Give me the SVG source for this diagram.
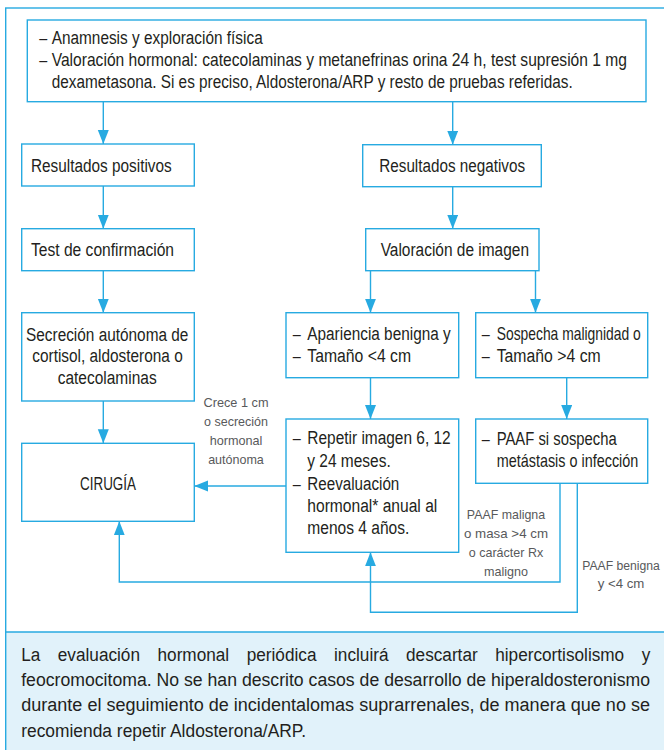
<svg xmlns="http://www.w3.org/2000/svg" width="664" height="750" viewBox="0 0 664 750">
<style>
.bx{fill:#fff;stroke:#27aae1;stroke-width:1.4}
.ln{fill:none;stroke:#27aae1;stroke-width:1.4}
.t{font-family:"Liberation Sans Narrow","Liberation Sans",Arial,sans-serif;font-size:18px;fill:#231f20}
.g{font-family:"Liberation Sans Narrow","Liberation Sans",Arial,sans-serif;font-size:13.5px;fill:#58595b;text-anchor:middle}
</style>
<defs>
<marker id="ah" markerUnits="userSpaceOnUse" markerWidth="15" markerHeight="12" refX="14" refY="5.5" orient="auto">
<path d="M0,0 L14,5.5 L0,11 z" fill="#27aae1"/>
</marker>
</defs>
<rect x="0" y="0" width="664" height="750" fill="#fff"/>
<rect x="5.7" y="632" width="660" height="120" fill="#e1f2fa"/>
<rect x="5.7" y="8" width="670" height="760" class="ln"/>
<line x1="5.7" y1="632" x2="664" y2="632" class="ln"/>

<g id="connectors">
<path class="ln" marker-end="url(#ah)" d="M103.3,101.7 V144"/>
<path class="ln" marker-end="url(#ah)" d="M452.7,101.7 V144.7"/>
<path class="ln" marker-end="url(#ah)" d="M103.3,186 V228.7"/>
<path class="ln" marker-end="url(#ah)" d="M452.7,186.7 V228.7"/>
<path class="ln" marker-end="url(#ah)" d="M103.3,270.7 V312.7"/>
<path class="ln" marker-end="url(#ah)" d="M370.5,270.7 V312.7"/>
<path class="ln" marker-end="url(#ah)" d="M535.5,270.7 V312.7"/>
<path class="ln" marker-end="url(#ah)" d="M103.3,401 V443.3"/>
<path class="ln" marker-end="url(#ah)" d="M370.5,377.7 V419"/>
<path class="ln" marker-end="url(#ah)" d="M566.7,377.7 V419"/>
<path class="ln" marker-end="url(#ah)" d="M286,486 H194.3"/>
<path class="ln" marker-end="url(#ah)" d="M560,483.3 V582 H119.3 V521.3"/>
<path class="ln" marker-end="url(#ah)" d="M577.3,483.3 V612.3 H370.5 V552.3"/>
<text class="g"><tspan x="236" y="407.3" textLength="65" lengthAdjust="spacingAndGlyphs">Crece 1 cm</tspan><tspan x="236" y="426.3" textLength="64" lengthAdjust="spacingAndGlyphs">o secreción</tspan><tspan x="236" y="445.3" textLength="52.7" lengthAdjust="spacingAndGlyphs">hormonal</tspan><tspan x="236" y="464.3" textLength="55.7" lengthAdjust="spacingAndGlyphs">autónoma</tspan></text>
<text class="g"><tspan x="506" y="519.3" textLength="78.3" lengthAdjust="spacingAndGlyphs">PAAF maligna</tspan><tspan x="506" y="538.3" textLength="84" lengthAdjust="spacingAndGlyphs">o masa &gt;4 cm</tspan><tspan x="506" y="557.3" textLength="74.4" lengthAdjust="spacingAndGlyphs">o carácter Rx</tspan><tspan x="506" y="576.3" textLength="44" lengthAdjust="spacingAndGlyphs">maligno</tspan></text>
<text class="g" transform="translate(621 570) scale(0.893 1)" x="0" y="0" textLength="87" lengthAdjust="spacingAndGlyphs">PAAF benigna</text>
<text class="g" x="621" y="588.3" textLength="46.7" lengthAdjust="spacingAndGlyphs">y &lt;4 cm</text>
</g>

<g id="n-top">
<rect class="bx" x="27.3" y="20" width="618.7" height="81.7"/>
<text class="t" x="39.3" y="43.5" textLength="8" lengthAdjust="spacingAndGlyphs">–</text>
<text class="t" x="51.7" y="43.5" textLength="211" lengthAdjust="spacingAndGlyphs">Anamnesis y exploración física</text>
<text class="t" x="39.3" y="65.5" textLength="8" lengthAdjust="spacingAndGlyphs">–</text>
<text class="t" transform="translate(51.7 65.5) scale(0.852 1)" x="0" y="0" textLength="675.2" lengthAdjust="spacingAndGlyphs">Valoración hormonal: catecolaminas y metanefrinas orina 24 h, test supresión 1 mg</text>
<text class="t" x="51.7" y="87.5" textLength="521" lengthAdjust="spacingAndGlyphs">dexametasona. Si es preciso, Aldosterona/ARP y resto de pruebas referidas.</text>
</g>

<g id="n-positivos">
<rect class="bx" x="21.7" y="144" width="172.6" height="42"/>
<text class="t" x="31" y="171.5" textLength="140.7" lengthAdjust="spacingAndGlyphs">Resultados positivos</text>
</g>

<g id="n-negativos">
<rect class="bx" x="362.7" y="144.7" width="178.6" height="42"/>
<text class="t" x="379.3" y="172" textLength="145.7" lengthAdjust="spacingAndGlyphs">Resultados negativos</text>
</g>

<g id="n-test">
<rect class="bx" x="21.7" y="228.7" width="172.6" height="42"/>
<text class="t" x="31" y="256" textLength="143" lengthAdjust="spacingAndGlyphs">Test de confirmación</text>
</g>

<g id="n-valoracion">
<rect class="bx" x="365.7" y="228.7" width="173.3" height="42"/>
<text class="t" x="380.7" y="256" textLength="148.3" lengthAdjust="spacingAndGlyphs">Valoración de imagen</text>
</g>

<g id="n-secrecion">
<rect class="bx" x="21.7" y="312.7" width="172.6" height="88.3"/>
<text class="t" x="107.2" y="340.5" text-anchor="middle" textLength="162.3" lengthAdjust="spacingAndGlyphs">Secreción autónoma de</text>
<text class="t" x="107.5" y="362.3" text-anchor="middle" textLength="150.4" lengthAdjust="spacingAndGlyphs">cortisol, aldosterona o</text>
<text class="t" x="107.2" y="384.1" text-anchor="middle" textLength="99" lengthAdjust="spacingAndGlyphs">catecolaminas</text>
</g>

<g id="n-apariencia">
<rect class="bx" x="286" y="312.7" width="172.7" height="65"/>
<text class="t" x="292.7" y="339.8" textLength="8" lengthAdjust="spacingAndGlyphs">–</text>
<text class="t" x="307.3" y="339.8" textLength="143.4" lengthAdjust="spacingAndGlyphs">Apariencia benigna y</text>
<text class="t" x="292.7" y="362" textLength="8" lengthAdjust="spacingAndGlyphs">–</text>
<text class="t" x="307.3" y="362" textLength="103.7" lengthAdjust="spacingAndGlyphs">Tamaño &lt;4 cm</text>
</g>

<g id="n-sospecha">
<rect class="bx" x="475.7" y="312.7" width="172" height="65"/>
<text class="t" x="481.7" y="339.8" textLength="8" lengthAdjust="spacingAndGlyphs">–</text>
<text class="t" transform="translate(496.7 339.8) scale(0.77 1)" x="0" y="0" textLength="187" lengthAdjust="spacingAndGlyphs">Sospecha malignidad o</text>
<text class="t" x="481.7" y="362" textLength="8" lengthAdjust="spacingAndGlyphs">–</text>
<text class="t" x="496.7" y="362" textLength="104" lengthAdjust="spacingAndGlyphs">Tamaño &gt;4 cm</text>
</g>

<g id="n-cirugia">
<rect class="bx" x="21.7" y="443.3" width="172.6" height="78"/>
<text class="t" x="108" y="489.5" text-anchor="middle" textLength="56" lengthAdjust="spacingAndGlyphs">CIRUGÍA</text>
</g>

<g id="n-repetir">
<rect class="bx" x="286" y="419" width="172.7" height="133.3"/>
<text class="t" x="292.7" y="444.2" textLength="8" lengthAdjust="spacingAndGlyphs">–</text>
<text class="t" x="307.3" y="444.2" textLength="143.4" lengthAdjust="spacingAndGlyphs">Repetir imagen 6, 12</text>
<text class="t" x="307.3" y="467" textLength="83.4" lengthAdjust="spacingAndGlyphs">y 24 meses.</text>
<text class="t" x="292.7" y="489.7" textLength="8" lengthAdjust="spacingAndGlyphs">–</text>
<text class="t" x="307.3" y="489.7" textLength="92" lengthAdjust="spacingAndGlyphs">Reevaluación</text>
<text class="t" x="307.3" y="512.4" textLength="130" lengthAdjust="spacingAndGlyphs">hormonal* anual al</text>
<text class="t" x="307.3" y="534.2" textLength="102" lengthAdjust="spacingAndGlyphs">menos 4 años.</text>
</g>

<g id="n-paaf">
<rect class="bx" x="475.7" y="419" width="172" height="64.3"/>
<text class="t" x="481.7" y="445" textLength="8" lengthAdjust="spacingAndGlyphs">–</text>
<text class="t" x="496.7" y="445" textLength="120" lengthAdjust="spacingAndGlyphs">PAAF si sospecha</text>
<text class="t" transform="translate(496.7 467.3) scale(0.8 1)" x="0" y="0" textLength="177" lengthAdjust="spacingAndGlyphs">metástasis o infección</text>
</g>

<g id="note">
<text class="t" y="660.5"><tspan x="21.2" textLength="19.1" lengthAdjust="spacingAndGlyphs">La</tspan> <tspan x="57.8" textLength="82.2" lengthAdjust="spacingAndGlyphs">evaluación</tspan> <tspan x="157.5" textLength="71.7" lengthAdjust="spacingAndGlyphs">hormonal</tspan> <tspan x="246.7" textLength="69.8" lengthAdjust="spacingAndGlyphs">periódica</tspan> <tspan x="334" textLength="54.5" lengthAdjust="spacingAndGlyphs">incluirá</tspan> <tspan x="406" textLength="71.7" lengthAdjust="spacingAndGlyphs">descartar</tspan> <tspan x="495.2" textLength="129" lengthAdjust="spacingAndGlyphs">hipercortisolismo</tspan> <tspan x="641.7" textLength="8.6" lengthAdjust="spacingAndGlyphs">y</tspan></text>
<text class="t" x="21.2" y="686" textLength="628.8" lengthAdjust="spacingAndGlyphs">feocromocitoma. No se han descrito casos de desarrollo de hiperaldosteronismo</text>
<text class="t" x="21.2" y="711" textLength="628.8" lengthAdjust="spacingAndGlyphs">durante el seguimiento de incidentalomas suprarrenales, de manera que no se</text>
<text class="t" x="21.2" y="736.5" textLength="284.8" lengthAdjust="spacingAndGlyphs">recomienda repetir Aldosterona/ARP.</text>
</g>
</svg>
